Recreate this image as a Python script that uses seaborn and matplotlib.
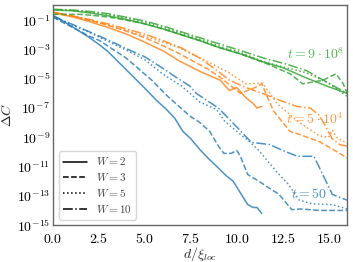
import numpy as np
import pandas as pd
import matplotlib
matplotlib.use("Agg")
import matplotlib.pyplot as plt
from matplotlib.lines import Line2D
from matplotlib.ticker import FuncFormatter, NullLocator
import seaborn as sns

# Curves: distance d/xi_loc and log10(Delta C)
# t = 50 (blue)
t50_w2_d = [0, 1, 2, 2.55, 3, 4, 4.56, 5, 5.65, 6.1, 6.63, 7.07, 7.5, 8, 8.5, 9, 9.4, 9.8, 10.2, 10.6, 10.9, 11.1, 11.36]
t50_w2_log = [-0.65, -1.4, -2.2, -2.7, -3.15, -4.4, -5.1, -5.65, -6.5, -7.0, -7.7, -8.6, -9.1, -9.85, -10.5, -11.1, -11.6, -12.0, -12.8, -13.6, -13.8, -13.8, -14.2]
t50_w3_d = [0, 1, 2, 2.55, 4, 5.38, 6.2, 7.45, 8.0, 8.53, 9.0, 9.3, 9.7, 10.0, 10.2, 10.6, 11.2, 11.8, 12.3, 13.0, 13.5, 14.5, 16]
t50_w3_log = [-0.8, -1.45, -2.1, -2.4, -3.6, -5.1, -6.15, -7.55, -8.0, -8.6, -9.6, -10.1, -10.1, -9.9, -10.3, -11.55, -12.0, -12.5, -12.9, -13.95, -13.9, -14.0, -14.0]
t50_w5_d = [0, 1, 2, 3, 4, 5, 6, 7, 8, 8.9, 9.35, 10, 10.7, 11.2, 11.6, 12.2, 12.8, 13.4, 14.1, 15.2, 16]
t50_w5_log = [-0.75, -1.3, -1.85, -2.45, -3.05, -3.7, -4.7, -5.5, -6.6, -7.1, -7.9, -8.6, -9.3, -9.9, -10.5, -11.4, -12.2, -13.3, -13.55, -13.6, -13.9]
t50_w10_d = [0, 1, 2, 3, 4, 5, 6, 6.7, 7.45, 7.8, 9.0, 9.7, 10.8, 11.8, 12.5, 13.3, 14.2, 15.2, 16]
t50_w10_log = [-0.75, -1.25, -1.8, -2.35, -2.95, -3.5, -4.3, -4.9, -5.5, -6.0, -7.0, -7.9, -9.35, -9.5, -9.9, -10.3, -10.3, -12.9, -13.3]

# t = 5*10^4 (orange)
t5e4_w2_d = [0, 1, 2, 3, 4, 5, 6, 6.9, 8, 9.1, 9.6, 10.0, 10.5, 10.9, 11.1, 11.36]
t5e4_w2_log = [-0.5, -0.75, -1.1, -1.5, -1.95, -2.5, -3.1, -3.8, -4.5, -5.1, -5.8, -5.6, -6.3, -6.7, -7.0, -6.9]
t5e4_w3_d = [0, 1, 2, 3, 4, 5, 6, 6.9, 8.37, 9.1, 10.2, 11.0, 11.36, 12.0, 12.9, 13.4, 14.5, 15.2, 16]
t5e4_w3_log = [-0.45, -0.7, -1.0, -1.35, -1.75, -2.2, -2.75, -3.3, -4.3, -4.9, -6.0, -5.6, -5.35, -7.2, -8.6, -8.8, -9.3, -9.8, -10.4]
t5e4_w5_d = [0, 1, 2, 3, 4, 5.27, 6.9, 8.37, 9.6, 10.5, 11.4, 12.2, 13.3, 14.5, 15.0, 15.2, 15.5, 16]
t5e4_w5_log = [-0.45, -0.7, -1.0, -1.35, -1.7, -2.2, -2.9, -3.8, -4.6, -5.35, -5.3, -6.7, -7.9, -8.9, -9.0, -8.5, -9.1, -9.4]
t5e4_w10_d = [0, 1, 2, 3, 4, 5, 6, 7, 8, 9, 9.6, 10.5, 11.4, 12.4, 13.3, 14.0, 14.5, 14.9, 15.2, 15.6, 16]
t5e4_w10_log = [-0.45, -0.7, -0.95, -1.25, -1.6, -1.95, -2.4, -2.9, -3.6, -4.5, -5.1, -5.6, -6.0, -6.5, -6.9, -7.0, -7.5, -8.4, -9.1, -9.5, -9.6]

# t = 9*10^8 (green)
t9e8_w2_d = [0, 1, 2, 3, 4, 5, 6, 7, 8, 9, 10.2, 11.3, 12.5, 13.7, 14.9, 16]
t9e8_w2_log = [-0.3, -0.35, -0.5, -0.7, -0.95, -1.25, -1.6, -2.0, -2.4, -2.85, -3.3, -3.8, -4.24, -4.9, -5.5, -6.0]
t9e8_w3_d = [0, 1, 1.5, 2, 3, 4, 5, 6, 7, 8, 9, 10.2, 11.5, 12.9, 13.6, 14.7, 15.4, 15.8, 16]
t9e8_w3_log = [-0.6, -0.6, -0.6, -0.65, -0.78, -1.0, -1.25, -1.6, -2.0, -2.4, -2.85, -3.3, -3.9, -4.66, -5.35, -5.1, -4.66, -5.35, -5.97]
t9e8_w5_d = [0, 1, 2, 3, 4, 5, 6, 7, 8, 9, 10.2, 11.5, 12.7, 13.8, 15, 16]
t9e8_w5_log = [-0.3, -0.32, -0.45, -0.62, -0.85, -1.15, -1.5, -1.9, -2.3, -2.75, -3.2, -3.85, -4.25, -4.6, -5.3, -6.2]
t9e8_w10_d = [0, 1, 2, 3, 4, 5, 6, 7, 8, 9, 10.2, 11.5, 12.7, 13.8, 15, 16]
t9e8_w10_log = [-0.25, -0.3, -0.4, -0.55, -0.8, -1.05, -1.4, -1.8, -2.2, -2.6, -3.07, -3.6, -4.0, -4.45, -5.3, -6.0]

curves = [
    ("50", 2, t50_w2_d, t50_w2_log), ("50", 3, t50_w3_d, t50_w3_log),
    ("50", 5, t50_w5_d, t50_w5_log), ("50", 10, t50_w10_d, t50_w10_log),
    ("5e4", 2, t5e4_w2_d, t5e4_w2_log), ("5e4", 3, t5e4_w3_d, t5e4_w3_log),
    ("5e4", 5, t5e4_w5_d, t5e4_w5_log), ("5e4", 10, t5e4_w10_d, t5e4_w10_log),
    ("9e8", 2, t9e8_w2_d, t9e8_w2_log), ("9e8", 3, t9e8_w3_d, t9e8_w3_log),
    ("9e8", 5, t9e8_w5_d, t9e8_w5_log), ("9e8", 10, t9e8_w10_d, t9e8_w10_log),
]
rows = []
for t, w, ds, logs in curves:
    for d, lg in zip(ds, logs):
        rows.append({"d": d, "dC": 10.0 ** lg, "t": t, "W": w})
df = pd.DataFrame(rows)

t_order = ["50", "5e4", "9e8"]
t_labels = [r"$t = 50$", r"$t = 5\cdot 10^4$", r"$t = 9\cdot 10^8$"]
t_label_pos = [(13.95, 10 ** -12.85), (14.25, 10 ** -7.75), (14.3, 10 ** -3.3)]
w_order = [2, 3, 5, 10]

sns.set_theme(style="white")
plt.rcParams["mathtext.fontset"] = "cm"
plt.rcParams["font.family"] = ["DejaVu Serif"]

colors = sns.color_palette("tab10", 3)
palette = dict(zip(t_order, colors))
dashes = {2: "", 3: (3.7, 1.6), 5: (1, 1.65), 10: (6.4, 1.6, 1, 1.6)}

fig, ax = plt.subplots(figsize=(3.53, 2.62), dpi=100)
fig.subplots_adjust(left=0.150, right=0.983, top=0.981, bottom=0.141)

for (t, w), sub in df.groupby(["t", "W"], sort=False):
    sns.lineplot(data=sub, x="d", y="dC", color=palette[t], dashes=False,
                 estimator=None, sort=False, lw=1.1, alpha=0.8, ax=ax, legend=False)
    line = ax.lines[-1]
    if dashes[w]:
        line.set_dashes(dashes[w])

ax.set_yscale("log")
ax.set_xlim(0, 16)
ax.set_ylim(1e-15, 1.1)
ax.set_yticks([10.0 ** e for e in range(-15, 0, 2)])
ax.yaxis.set_minor_locator(NullLocator())
ax.set_xticks([0, 2.5, 5, 7.5, 10, 12.5, 15])
ax.yaxis.set_major_formatter(FuncFormatter(lambda v, p: r"$10^{%d}$" % round(np.log10(v))))
ax.xaxis.set_major_formatter(FuncFormatter(lambda v, p: r"$%.1f$" % v))
ax.tick_params(direction="in", length=3, width=0.8, labelsize=10, colors="#444444",
               labelcolor="black")
ax.tick_params(axis="x", pad=5)
ax.tick_params(axis="y", pad=2)

for s in ax.spines.values():
    s.set_color("#666666")
    s.set_linewidth(1.0)

ax.set_xlabel(r"$d/\xi_{loc}$", fontsize=10, labelpad=-1)
ax.set_ylabel(r"$\Delta C$", fontsize=10, labelpad=2)

for t, lab, (x, y) in zip(t_order, t_labels, t_label_pos):
    ax.text(x, y, lab, color=palette[t], fontsize=10, ha="center", va="center", alpha=0.8)

handles = [Line2D([], [], color="black", lw=1.1) for _ in w_order]
for h, w in zip(handles, w_order):
    if dashes[w]:
        h.set_dashes(dashes[w])
leg = ax.legend(handles, [r"$W = %d$" % w for w in w_order], loc="lower left",
                fontsize=8, handlelength=2.2, labelspacing=0.35, borderpad=0.4,
                frameon=True, fancybox=True, edgecolor="#cccccc", framealpha=0.8)
for txt in leg.get_texts():
    txt.set_color("#444444")

fig.savefig("out.png", dpi=100)
